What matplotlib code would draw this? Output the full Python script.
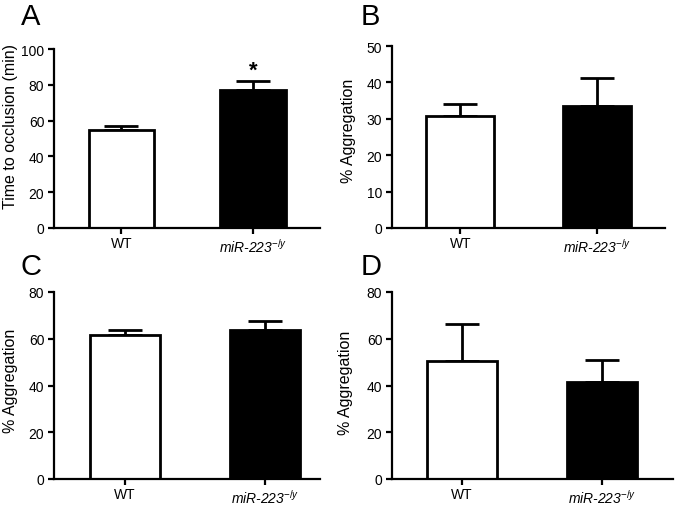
import matplotlib
matplotlib.use('Agg')
from matplotlib import pyplot as plt

plt.rcParams['font.family'] = ['Liberation Sans', 'DejaVu Sans']
plt.rcParams['mathtext.fontset'] = 'custom'
plt.rcParams['mathtext.it'] = 'Liberation Sans:italic'
plt.rcParams['mathtext.rm'] = 'Liberation Sans'

groups = ['WT', 'miR-223$^{\\mathit{-/y}}$']
colors = ['white', 'black']

# Panel A: time to occlusion
occl_means = [54.5, 77.3]
occl_err = [2.5, 4.7]

# Panel B
aggB_means = [30.7, 33.4]
aggB_err = [3.3, 7.7]

# Panel C
aggC_means = [61.6, 63.8]
aggC_err = [2.2, 3.8]

# Panel D
aggD_means = [50.4, 41.7]
aggD_err = [15.9, 9.0]

W, H = 675, 506
fig = plt.figure(figsize=(W / 100, H / 100), dpi=100)


def px_axes(left, top, right, bottom):
    return fig.add_axes([left / W, 1 - bottom / H, (right - left) / W, (bottom - top) / H])


def draw_panel(ax, means, errs, ymax, ystep, ylabel, xlim, label_xy):
    x = [0, 1]
    ax.bar(x, means, width=0.5, color=colors, edgecolor='black', linewidth=2.0, zorder=2)
    ax.errorbar(x, means, yerr=[[0, 0], errs], fmt='none', ecolor='black',
                elinewidth=2.0, capsize=12, capthick=2.0, zorder=1)
    ax.set_ylim(0, ymax)
    ax.set_xlim(*xlim)
    ax.set_yticks(range(0, ymax + 1, ystep))
    ax.set_xticks(x)
    ax.set_xticklabels(groups)
    ax.get_xticklabels()[1].set_fontstyle('italic')
    for s in ['top', 'right']:
        ax.spines[s].set_visible(False)
    for s in ['left', 'bottom']:
        ax.spines[s].set_linewidth(1.6)
    ax.tick_params(axis='both', direction='out', length=4, width=1.6, labelsize=10, pad=3)
    ax.tick_params(axis='x', pad=2)
    ax.set_ylabel(ylabel, fontsize=11.5, va='center')
    ax.yaxis.set_label_coords(*label_xy)


def panel_letter(letter, x, y):
    fig.text(x / W, 1 - y / H, letter, fontsize=21, ha='left', va='baseline')


axA = px_axes(54, 50, 320, 229)
draw_panel(axA, occl_means, occl_err, 100, 20, 'Time to occlusion (min)', (-0.513, 1.51), (-0.165, 0.57))
axA.text(1, occl_means[1] + occl_err[1] + 0.5, '*', ha='center', va='bottom', fontsize=16, fontweight='bold')

axB = px_axes(392, 47, 665, 229)
draw_panel(axB, aggB_means, aggB_err, 50, 10, '% Aggregation', (-0.5, 1.5), (-0.161, 0.54))

axC = px_axes(54, 293, 320, 480)
draw_panel(axC, aggC_means, aggC_err, 80, 20, '% Aggregation', (-0.507, 1.39), (-0.165, 0.53))

axD = px_axes(392, 293, 673, 480)
draw_panel(axD, aggD_means, aggD_err, 80, 20, '% Aggregation', (-0.5, 1.51), (-0.164, 0.52))

panel_letter('A', 21, 25)
panel_letter('B', 361, 25)
panel_letter('C', 21, 275)
panel_letter('D', 361, 275)

fig.savefig('out.png', dpi=100)
